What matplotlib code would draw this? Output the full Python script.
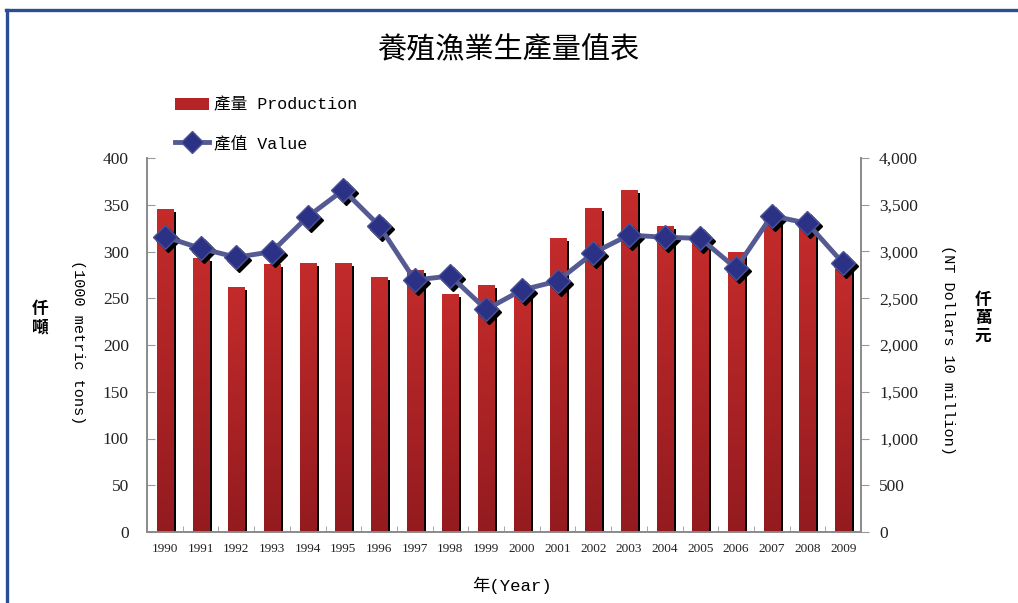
import numpy as np
import matplotlib
matplotlib.use('Agg')
import matplotlib.pyplot as plt
import matplotlib.transforms as mtransforms
from matplotlib.patches import Patch
from matplotlib.lines import Line2D
from matplotlib.font_manager import FontProperties
from matplotlib.colors import LinearSegmentedColormap
from matplotlib.ticker import FuncFormatter

years = [str(y) for y in range(1990, 2010)]
production = [345, 293, 262, 287, 288, 288, 273, 280, 255, 264,
              257, 314, 347, 366, 327, 309, 300, 332, 327, 281]
value = [3158, 3034, 2938, 2998, 3372, 3658, 3278, 2695, 2738, 2380,
         2588, 2684, 2984, 3176, 3152, 3141, 2820, 3383, 3301, 2874]

CJK = 'Noto Sans CJK TC'
mixed = ['Liberation Mono', CJK]
W, H = 1018, 603

fig = plt.figure(figsize=(W / 100, H / 100), dpi=100)
ax = fig.add_axes([147 / W, 1 - 532 / H, (861 - 147) / W, (532 - 158) / H])
ax2 = ax.twinx()

x = np.arange(len(years))
bw = 0.45
shadow = mtransforms.ScaledTranslation(3 / 100, -3 / 100, fig.dpi_scale_trans)

# shadow bars, then gradient-filled bars on top
ax.bar(x, production, width=bw, color='black', transform=ax.transData + shadow, zorder=1)
bars = ax.bar(x, production, width=bw, color='#b52426', zorder=2)
cmap = LinearSegmentedColormap.from_list('redgrad', ['#931b1f', '#c42b2b'])
grad = np.linspace(0, 1, 256).reshape(-1, 1)
for b in bars:
    x0 = b.get_x()
    im = ax.imshow(grad, cmap=cmap, origin='lower', aspect='auto',
                   extent=(x0, x0 + b.get_width(), 0, b.get_height()), zorder=3)
    im.set_clip_path(b)

ax.set_xlim(-0.5, len(years) - 0.5)
ax.set_ylim(0, 400)
ax2.set_ylim(0, 4000)

# value line with shadowed markers
ax2.plot(x, value, 'D', color='black', markersize=12, transform=ax2.transData + shadow, zorder=3)
ax2.plot(x, value, color='#555a93', lw=3.5, marker='D', markersize=12,
         markerfacecolor='#2b3184', markeredgecolor='#4c5296', markeredgewidth=1, zorder=4)

tick_font = FontProperties(family='Liberation Serif', size=12.5)
ax.set_yticks(np.arange(0, 401, 50))
ax.set_yticklabels([str(v) for v in range(0, 401, 50)], fontproperties=tick_font, color='#222222')
ax.tick_params(axis='y', direction='in', length=6, color='#999999', pad=13)
ax2.set_yticks(np.arange(0, 4001, 500))
ax2.yaxis.set_major_formatter(FuncFormatter(lambda v, p: f'{int(v):,}'))
for t in ax2.get_yticklabels():
    t.set_fontproperties(tick_font)
    t.set_color('#222222')
ax2.tick_params(axis='y', direction='out', length=6, color='#999999', pad=7)

ax.set_xticks(x)
ax.set_xticklabels(years, fontproperties=FontProperties(family='Liberation Serif', size=9.5),
                   color='#222222')
ax.set_xticks(np.arange(-0.5, len(years)), minor=True)
ax.tick_params(axis='x', which='major', length=0, pad=8)
ax.tick_params(axis='x', which='minor', direction='in', length=4, color='#999999')

for a in (ax, ax2):
    a.spines['top'].set_visible(False)
    for s in ('left', 'right', 'bottom'):
        a.spines[s].set_color('#8c8c8c')
        a.spines[s].set_linewidth(1.3)

fig.text(0.499, 1 - 50 / H, '養殖漁業生產量值表', family=CJK, size=21, ha='center', va='center')

label_font = FontProperties(family=mixed, size=11)
fig.text(78 / W, 1 - 342 / H, '(1000 metric tons)', fontproperties=label_font,
         rotation=-90, ha='center', va='center')
fig.text(948 / W, 1 - 350 / H, '(NT Dollars 10 million)', fontproperties=label_font,
         rotation=-90, ha='center', va='center')
fig.text(40 / W, 1 - 318 / H, '仟\n噸', family=CJK, size=12, weight='bold',
         ha='center', va='center', linespacing=1.0)
fig.text(983 / W, 1 - 318 / H, '仟\n萬\n元', family=CJK, size=12, weight='bold',
         ha='center', va='center', linespacing=1.0)
fig.text(512 / W, 1 - 585 / H, '年(Year)', fontproperties=FontProperties(family=mixed, size=12.5),
         ha='center', va='center')

handles = [Patch(facecolor='#b52426', edgecolor='none'),
           Line2D([0], [0], color='#555a93', lw=3.5, marker='D', markersize=11,
                  markerfacecolor='#2b3184', markeredgecolor='#4c5296')]
fig.legend(handles, ['產量 Production', '產值 Value'], loc='upper left',
           bbox_to_anchor=(167 / W, 1 - 89 / H), frameon=False, borderpad=0,
           prop=FontProperties(family=mixed, size=12), handlelength=2.0,
           handleheight=0.75, handletextpad=0.35, labelspacing=1.35)

# blue frame around the chart
fig.add_artist(Line2D([6 / W, 1], [1 - 10 / H, 1 - 10 / H], color='#2a4d94', lw=2.4,
                      transform=fig.transFigure))
fig.add_artist(Line2D([6.5 / W, 6.5 / W], [0, 1 - 10 / H], color='#2a4d94', lw=2.4,
                      transform=fig.transFigure))

fig.savefig('out.png', dpi=100)
